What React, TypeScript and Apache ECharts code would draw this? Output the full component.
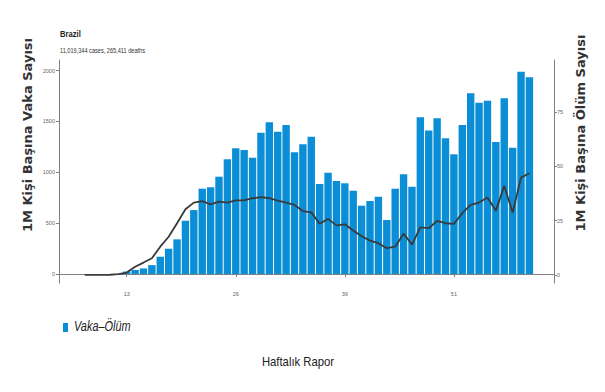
import { useEffect, useRef } from "react";
import * as echarts from "echarts";

const caseWeeks = [13, 14, 15, 16, 17, 18, 19, 20, 21, 22, 23, 24, 25, 26, 27, 28, 29, 30, 31, 32, 33, 34, 35, 36, 37, 38, 39, 40, 41, 42, 43, 44, 45, 46, 47, 48, 49, 50, 51, 52, 53, 54, 55, 56, 57, 58, 59, 60, 61];
const casesPerMillion = [25, 40, 55, 88, 170, 249, 341, 524, 629, 839, 852, 957, 1128, 1236, 1219, 1144, 1389, 1491, 1399, 1465, 1197, 1275, 1350, 885, 996, 914, 892, 819, 672, 718, 760, 531, 839, 980, 858, 1541, 1412, 1531, 1334, 1177, 1465, 1777, 1684, 1704, 1298, 1727, 1242, 1989, 1934];

const deathWeeks = [8, 9, 10, 11, 12, 13, 14, 15, 16, 17, 18, 19, 20, 21, 22, 23, 24, 25, 26, 27, 28, 29, 30, 31, 32, 33, 34, 35, 36, 37, 38, 39, 40, 41, 42, 43, 44, 45, 46, 47, 48, 49, 50, 51, 52, 53, 54, 55, 56, 57, 58, 59, 60, 61];
const deathsPerMillion = [0, 0, 0, 0.1, 0.4, 1.1, 3.8, 5.7, 7.7, 13, 17.6, 23.8, 30.2, 33.3, 34, 32.5, 33.7, 33.3, 34.3, 34.3, 35.3, 35.8, 35.3, 34.2, 33.3, 32.2, 29.4, 28.8, 23.6, 25.8, 22.8, 23.3, 20.5, 17.8, 15.8, 14.6, 12.3, 13, 19, 14, 21.9, 21.5, 24.9, 23.8, 23.5, 28.4, 32.2, 33.3, 35.6, 29.5, 41, 28.7, 44.8, 46.8];

const leftTicks = [0, 500, 1000, 1500, 2000];
const rightTicks = [0, 25, 50, 75];
const xTickValues = [13, 26, 39, 52];
const xTickLabels = ["13", "26", "39", "51"];

const titleText = "Brazil";
const subtitleText = "11,019,344 cases, 265,411 deaths";
const leftTitle = "1M Kişi Başına Vaka Sayısı";
const rightTitle = "1M Kişi Başına Ölüm Sayısı";
const legendText = "Vaka–Ölüm";
const bottomText = "Haftalık Rapor";

export default function App() {
  const ref = useRef<HTMLDivElement>(null);
  useEffect(() => {
    document.body.style.margin = "0";
    const chart = echarts.init(ref.current!, null, { renderer: "svg" });
    const axisColor = "#808080";
    const labelStyle = { fontSize: 5.5, color: "#666", fontFamily: "Liberation Sans" };
    chart.setOption({
      animation: false,
      backgroundColor: "#fff",
      grid: { left: 59, right: 51, top: 60, bottom: 109 },
      xAxis: {
        type: "value",
        min: 4.93,
        max: 63.93,
        splitLine: { show: false },
        axisLine: { show: true, lineStyle: { color: axisColor, width: 1 } },
        axisTick: { show: true, length: 3, customValues: xTickValues, lineStyle: { color: axisColor } },
        axisLabel: {
          ...labelStyle,
          margin: 8,
          customValues: xTickValues,
          formatter: (v: number) => {
            const i = xTickValues.indexOf(v);
            return i >= 0 ? xTickLabels[i] : "";
          },
        },
      },
      yAxis: [
        {
          type: "value",
          min: -88,
          max: 2104,
          splitLine: { show: false },
          axisLine: { show: true, lineStyle: { color: axisColor, width: 1 } },
          axisTick: { show: true, length: 3, customValues: leftTicks, lineStyle: { color: axisColor } },
          axisLabel: { ...labelStyle, margin: 4, customValues: leftTicks, formatter: (v: number) => String(v) },
        },
        {
          type: "value",
          position: "right",
          min: -3.7,
          max: 98.9,
          splitLine: { show: false },
          axisLine: { show: true, lineStyle: { color: axisColor, width: 1 } },
          axisTick: { show: true, length: 3, customValues: rightTicks, lineStyle: { color: axisColor } },
          axisLabel: { ...labelStyle, margin: 3, customValues: rightTicks, formatter: (v: number) => String(v) },
        },
      ],
      series: [
        {
          name: legendText,
          type: "bar",
          xAxisIndex: 0,
          yAxisIndex: 0,
          barWidth: 7.4,
          itemStyle: { color: "#0b8ed6" },
          data: caseWeeks.map((w, i) => [w, casesPerMillion[i]]),
        },
        {
          name: "deaths",
          type: "line",
          xAxisIndex: 0,
          yAxisIndex: 1,
          showSymbol: false,
          symbol: "none",
          lineStyle: { color: "#3a3a3a", width: 1.8 },
          data: deathWeeks.map((w, i) => [w, deathsPerMillion[i]]),
        },
      ],
      graphic: [
        {
          type: "text",
          x: 60,
          y: 34,
          scaleX: 0.9,
          style: { text: titleText, fontSize: 8.5, fontWeight: "bold", fontFamily: "Liberation Sans", fill: "#222", align: "left", verticalAlign: "middle" },
        },
        {
          type: "text",
          x: 60,
          y: 50,
          scaleX: 0.8,
          style: { text: subtitleText, fontSize: 7, fontFamily: "Liberation Sans", fill: "#333", align: "left", verticalAlign: "middle" },
        },
        {
          type: "text",
          x: 27,
          y: 135,
          rotation: Math.PI / 2,
          style: { text: leftTitle, fontSize: 13, fontWeight: "bold", fontFamily: "DejaVu Sans", fill: "#333", align: "center", verticalAlign: "middle" },
        },
        {
          type: "text",
          x: 580,
          y: 133,
          rotation: Math.PI / 2,
          style: { text: rightTitle, fontSize: 13, fontWeight: "bold", fontFamily: "DejaVu Sans", fill: "#333", align: "center", verticalAlign: "middle" },
        },
        {
          type: "rect",
          shape: { x: 63, y: 323, width: 5, height: 9 },
          style: { fill: "#0b8ed6" },
        },
        {
          type: "text",
          x: 74,
          y: 327,
          scaleX: 0.78,
          style: { text: legendText, fontSize: 14, fontStyle: "italic", fontFamily: "Liberation Sans", fill: "#222", align: "left", verticalAlign: "middle" },
        },
        {
          type: "text",
          x: 298,
          y: 362,
          scaleX: 0.87,
          style: { text: bottomText, fontSize: 13, fontFamily: "Liberation Sans", fill: "#222", align: "center", verticalAlign: "middle" },
        },
      ],
    });
    return () => chart.dispose();
  }, []);
  return <div ref={ref} style={{ width: 605, height: 392 }} />;
}
